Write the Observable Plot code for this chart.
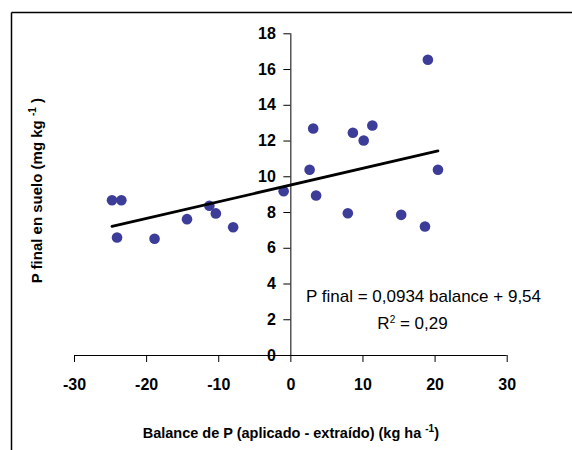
<!DOCTYPE html>
<html>
<head>
<meta charset="utf-8">
<script src="https://cdn.jsdelivr.net/npm/d3@7"></script>
<script src="https://cdn.jsdelivr.net/npm/@observablehq/plot@0.6"></script>
<style>
  body { margin: 0; background: #fff; }
  #wrap { position: relative; width: 572px; height: 450px; overflow: hidden; }
  #wrap svg { display: block; }
  g[aria-label$="tick label"] text { font-weight: bold; }
</style>
</head>
<body>
<div id="wrap"></div>
<script>
// Data
const balance = [-24.8, -23.5, -24.1, -18.9, -14.4, -11.3, -10.4, -8.0, -1.0, 2.6, 3.1, 3.5, 7.9, 8.6, 10.1, 11.3, 15.3, 18.6, 19.0, 20.4];
const pFinal  = [8.69, 8.69, 6.60, 6.53, 7.63, 8.38, 7.95, 7.18, 9.19, 10.39, 12.70, 8.95, 7.96, 12.46, 12.03, 12.87, 7.87, 7.22, 16.55, 10.39];
const xTicks = [-30, -20, -10, 0, 10, 20, 30];
const yTicks = [0, 2, 4, 6, 8, 10, 12, 14, 16, 18];
const slope = 0.0934;
const intercept = 9.54;
const xTitle = "Balance de P (aplicado - extraído) (kg ha ^{-1})";
const yTitle = "P final en suelo (mg kg ^{-1} )";
const eqText = "P final = 0,0934 balance + 9,54";
const r2Text = "R^{2} = 0,29";

const points = balance.map((b, i) => ({balance: b, pFinal: pFinal[i]}));
const [xmin, xmax] = d3.extent(balance);
const fitLine = [xmin, xmax].map(b => ({balance: b, pFinal: slope * b + intercept}));

const W = 572, H = 450;
const mL = 74, mR = 65.3, mT = 33.3, mB = 95;
const xScale = Plot.scale({x: {domain: [-30, 30], range: [mL, W - mR]}});
const yAxisShift = xScale.apply(0) - mL;

const font = "'Liberation Sans', Arial, Helvetica, sans-serif";
const fmt = d => String(d);

const chart = Plot.plot({
  width: W,
  height: H,
  marginLeft: mL,
  marginRight: mR,
  marginTop: mT,
  marginBottom: mB,
  style: {fontFamily: font, color: "#000", background: "#fff", overflow: "visible"},
  x: {domain: [-30, 30]},
  y: {domain: [0, 18]},
  marks: [
    // outer chart border: top and left edges
    () => {
      const g = d3.create("svg:g").attr("stroke", "#000").attr("stroke-width", 1.5);
      g.append("line").attr("x1", 11.5).attr("x2", W).attr("y1", 12.5).attr("y2", 12.5);
      g.append("line").attr("x1", 11.5).attr("x2", 11.5).attr("y1", 12.5).attr("y2", H);
      return g.node();
    },
    Plot.ruleY([0], {stroke: "#000", strokeWidth: 1}),
    Plot.ruleX([0], {stroke: "#000", strokeWidth: 1}),
    Plot.axisX(xTicks, {tickSize: 7, tickPadding: 16, fontSize: 16, fontWeight: "bold", label: null, stroke: "#000", tickFormat: fmt}),
    Plot.axisY(yTicks, {anchor: "left", dx: yAxisShift, tickSize: 7, tickPadding: 8, fontSize: 16, fontWeight: "bold", label: null, stroke: "#000", tickFormat: fmt}),
    Plot.dot(points, {x: "balance", y: "pFinal", r: 5.3, fill: "#3c3c99", stroke: "none"}),
    Plot.line(fitLine, {x: "balance", y: "pFinal", stroke: "#000", strokeWidth: 2.8}),
    Plot.text([xTitle], {frameAnchor: "bottom", dy: 78, fontSize: 14.5, fontWeight: "bold", lineAnchor: "middle", textAnchor: "middle"}),
    Plot.text([yTitle], {frameAnchor: "left", dx: -37, dy: -4, rotate: -90, fontSize: 15, fontWeight: "bold", lineAnchor: "middle", textAnchor: "middle"}),
    Plot.text([eqText], {frameAnchor: "top-left", dx: 349, dy: 262.3, fontSize: 17, lineAnchor: "middle", textAnchor: "middle"}),
    Plot.text([r2Text], {frameAnchor: "top-left", dx: 338, dy: 289.6, fontSize: 17, lineAnchor: "middle", textAnchor: "middle"})
  ]
});

// superscripts: turn ^{...} into raised tspans
d3.select(chart).selectAll("text").each(function () {
  const t = this.textContent;
  if (!t.includes("^{")) return;
  const fs = parseFloat(this.getAttribute("font-size")) || 15;
  const parts = t.split(/(\^\{[^}]*\})/).filter(p => p.length);
  this.textContent = "";
  let raised = false;
  const shift = Math.round(fs * 0.38);
  for (const part of parts) {
    const m = part.match(/^\^\{([^}]*)\}$/);
    const ts = d3.select(this).append("tspan");
    if (m) {
      ts.text(m[1]).attr("font-size", Math.round(fs * 0.65)).attr("dy", -shift);
      raised = true;
    } else {
      ts.text(part);
      if (raised) { ts.attr("dy", shift); raised = false; }
    }
  }
});

document.getElementById("wrap").appendChild(chart);
</script>
</body>
</html>
